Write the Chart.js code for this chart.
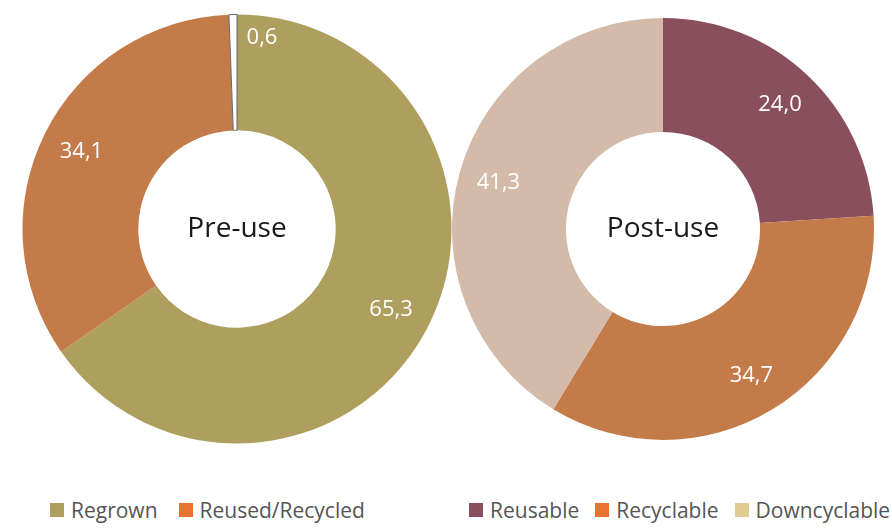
<!DOCTYPE html>
<html>
<head>
<meta charset="utf-8">
<script src="https://cdn.jsdelivr.net/npm/chart.js@4"></script>
<style>
  body { margin: 0; background: #fff; width: 892px; height: 532px; position: relative; overflow: hidden; font-family: "Open Sans", sans-serif; }
  canvas { position: absolute; }
  #preChart { left: 22px; top: 14px; }
  #postChart { left: 452px; top: 18px; }
  .legend { position: absolute; top: 496px; display: flex; align-items: center; color: #555; font-size: 21px; }
  .legend span.box { display: inline-block; width: 14px; height: 14px; margin-right: 7px; }
  .legend .item { display: flex; align-items: center; margin-right: 21px; }
  #postLegend .item { margin-right: 16px; }
</style>
</head>
<body>
<canvas id="preChart" width="430" height="430"></canvas>
<canvas id="postChart" width="422" height="422"></canvas>

<div class="legend" id="preLegend" style="left:50px"></div>
<div class="legend" id="postLegend" style="left:469px"></div>

<script>
// donnees
var preLabels = ['Regrown', 'Reused/Recycled', ''];
var preValues = [65.3, 34.1, 0.6];
var preColors = ['#ae9f5f', '#c47b4a', '#ffffff'];
var preLegendColors = ['#ae9f5f', '#e8722f'];

var postLabels = ['Reusable', 'Recyclable', 'Downcyclable'];
var postValues = [24.0, 34.7, 41.3];
var postColors = ['#8a4f5d', '#c47b4a', '#d4baa9'];
var postLegendColors = ['#8a4f5d', '#e8722f', '#e0cb90'];

// etiquettes sur les parts + texte au centre
var donutText = {
    id: 'donutText',
    afterDraw: function(chart, args, opts) {
        var ctx = chart.ctx;
        var meta = chart.getDatasetMeta(0);
        var data = chart.data.datasets[0].data;
        var total = data.reduce(function(a, b) { return a + b; }, 0);
        ctx.save();
        ctx.fillStyle = '#ffffff';
        ctx.font = '22px "Open Sans"';
        ctx.textAlign = 'center';
        ctx.textBaseline = 'middle';
        meta.data.forEach(function(arc, i) {
            var p = arc.getProps(['x', 'y', 'startAngle', 'endAngle', 'outerRadius'], true);
            var angle = (p.startAngle + p.endAngle) / 2;
            var r = p.outerRadius * 0.81;
            if (data[i] / total < 0.02) {
                // petite part : etiquette poussee a cote
                angle = p.endAngle + 0.13;
                r = p.outerRadius * 0.9;
            }
            var txt = data[i].toFixed(1).replace('.', ',');
            ctx.fillText(txt, p.x + Math.cos(angle) * r, p.y + Math.sin(angle) * r);
        });
        var c = meta.data[0];
        ctx.fillStyle = '#1a1a1a';
        ctx.font = '28px "Open Sans"';
        ctx.fillText(opts.title, c.x, c.y);
        ctx.restore();
    }
};

function makeDonut(id, labels, values, colors, borders, title) {
    var ctx = document.getElementById(id).getContext('2d');
    return new Chart(ctx, {
        type: 'doughnut',
        data: {
            labels: labels,
            datasets: [{
                data: values,
                backgroundColor: colors,
                borderColor: borders.color,
                borderWidth: borders.width
            }]
        },
        options: {
            responsive: false,
            animation: false,
            cutout: '46%',
            layout: { padding: 0 },
            plugins: {
                legend: { display: false },
                tooltip: { enabled: false },
                donutText: { title: title }
            }
        },
        plugins: [donutText]
    });
}

makeDonut('preChart', preLabels, preValues, preColors,
    { color: ['#ae9f5f', '#c47b4a', '#666666'], width: [0, 0, 1] }, 'Pre-use');
makeDonut('postChart', postLabels, postValues, postColors,
    { color: postColors, width: [0, 0, 0] }, 'Post-use');

// legendes
function buildLegend(id, labels, colors) {
    var div = document.getElementById(id);
    labels.forEach(function(label, i) {
        var item = document.createElement('div');
        item.className = 'item';
        var box = document.createElement('span');
        box.className = 'box';
        box.style.background = colors[i];
        item.appendChild(box);
        item.appendChild(document.createTextNode(label));
        div.appendChild(item);
    });
}
buildLegend('preLegend', preLabels.slice(0, 2), preLegendColors);
buildLegend('postLegend', postLabels, postLegendColors);
</script>
</body>
</html>
